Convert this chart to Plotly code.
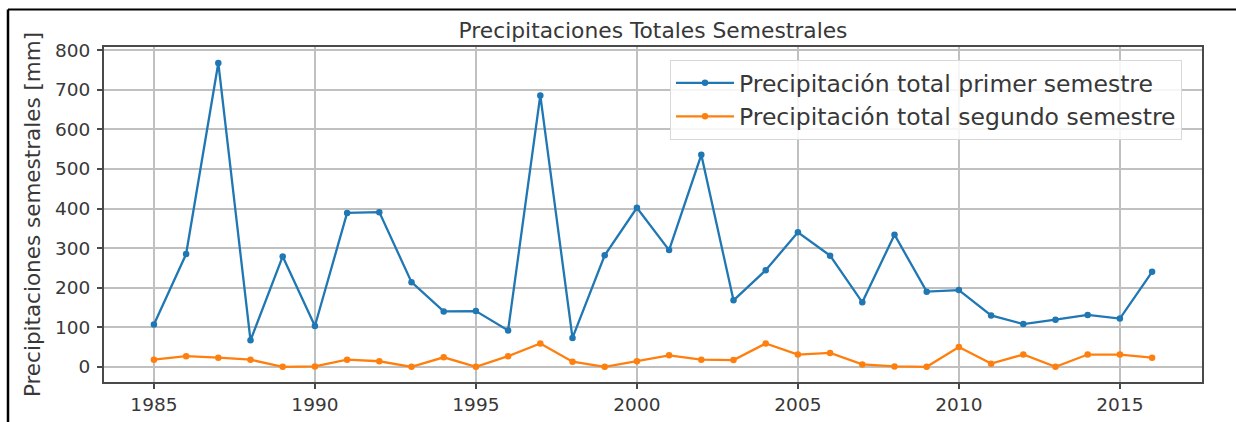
import plotly.graph_objects as go

# Semester precipitation totals per year (mm)
years = list(range(1985, 2017))
primer_semestre = [107, 285, 768, 67, 279, 103, 389, 391, 214, 140,
                   141, 92, 686, 73, 282, 402, 295, 536, 168, 244,
                   340, 281, 163, 334, 190, 194, 130, 108, 119, 131,
                   122, 240]
segundo_semestre = [18, 27, 23, 18, 0, 1, 18, 14, 0, 24,
                    0, 27, 59, 13, 0, 14, 29, 18, 17, 59,
                    31, 35, 6, 1, 0, 50, 8, 31, 0, 31,
                    31, 23]

series_names = ["Precipitación total primer semestre",
                "Precipitación total segundo semestre"]
series_colors = ["#1f77b4", "#ff7f0e"]

x_ticks = [1985, 1990, 1995, 2000, 2005, 2010, 2015]
y_ticks = [0, 100, 200, 300, 400, 500, 600, 700, 800]

FONT = "DejaVu Sans"
TEXT = "#383838"
SPINE = "#4a4a4a"
GRID = "#c0c0c0"

W, H = 1236, 422
L, R, T, B = 104, 34, 47, 40
PW, PH = W - L - R, H - T - B

fig = go.Figure()
for name, vals, col in zip(series_names, [primer_semestre, segundo_semestre], series_colors):
    fig.add_trace(go.Scatter(
        x=years, y=vals, name=name, mode="lines+markers",
        legendgroup=name,
        line=dict(color=col, width=2.3),
        marker=dict(color=col, size=6.5),
    ))

# surrounding page frame (top and left rules)
def px_x(px):
    return (px - L) / PW

def px_y(py):
    return (H - B - py) / PH

fig.add_shape(type="line", xref="paper", yref="paper",
              x0=px_x(8), x1=px_x(W + 5), y0=px_y(9.5), y1=px_y(9.5),
              line=dict(color="black", width=2))
fig.add_shape(type="line", xref="paper", yref="paper",
              x0=px_x(8), x1=px_x(8), y0=px_y(9.5), y1=px_y(H + 5),
              line=dict(color="black", width=2.5))

fig.update_layout(
    width=W, height=H,
    margin=dict(l=L, r=R, t=T, b=B, autoexpand=False),
    paper_bgcolor="white", plot_bgcolor="white",
    font=dict(family=FONT, color=TEXT),
    title=dict(text="Precipitaciones Totales Semestrales",
               x=0.5, xref="paper", xanchor="center",
               y=1 - 30 / H, yanchor="middle",
               font=dict(family=FONT, size=21.8, color=TEXT)),
    showlegend=True,
    legend=dict(x=px_x(670), y=px_y(60), xanchor="left", yanchor="top",
                bgcolor="rgba(255,255,255,0.85)", bordercolor="#d8d8d8",
                borderwidth=1, tracegroupgap=0, itemwidth=58,
                font=dict(family=FONT, size=23.5, color=TEXT)),
    xaxis=dict(range=[1983.45, 2017.55], tickvals=x_ticks,
               automargin=False,
               showgrid=True, gridcolor=GRID, gridwidth=1.5,
               showline=True, linecolor=SPINE, linewidth=2, mirror=True,
               ticks="outside", ticklen=5, tickcolor=SPINE, tickwidth=1.5,
               zeroline=False, ticklabelstandoff=0,
               tickfont=dict(family=FONT, size=18.5, color=TEXT)),
    yaxis=dict(range=[-38.4, 808.4], tickvals=y_ticks,
               automargin=False,
               showgrid=True, gridcolor=GRID, gridwidth=1.5,
               showline=True, linecolor=SPINE, linewidth=2, mirror=True,
               ticks="outside", ticklen=5, tickcolor=SPINE, tickwidth=1.5,
               zeroline=False, ticklabelstandoff=3,
               title=dict(text="Precipitaciones semestrales [mm]", standoff=8,
                          font=dict(family=FONT, size=21.5, color=TEXT)),
               tickfont=dict(family=FONT, size=18.5, color=TEXT)),
)

fig.write_html("out.html")
